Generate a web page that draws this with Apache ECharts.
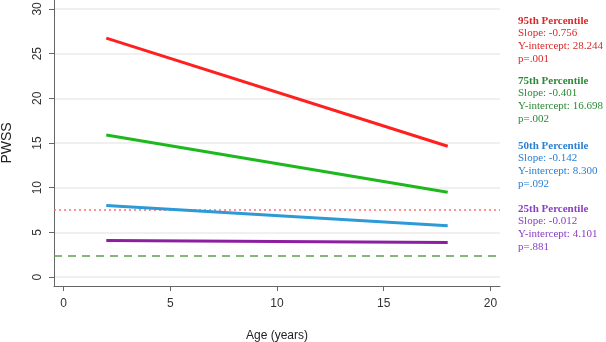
<!DOCTYPE html>
<html><head><meta charset="utf-8">
<script src="https://cdn.jsdelivr.net/npm/echarts@6/dist/echarts.min.js"></script>
<style>html,body{margin:0;padding:0;background:#fff}#c{width:606px;height:342px}</style>
</head><body><div id="c"></div>
<script>
// ---- data ----
const ages = [2, 18];
const p95 = [26.73, 14.64];
const p75 = [15.90, 9.48];
const p50 = [8.02, 5.74];
const p25 = [4.08, 3.88];
const refRed = 7.5;
const refGreen = 2.4;
const xTicks = [0, 5, 10, 15, 20];
const yTicks = [0, 5, 10, 15, 20, 25, 30];
const pctNames = ['95th Percentile', '75th Percentile', '50th Percentile', '25th Percentile'];
const slopes = ['-0.756', '-0.401', '-0.142', '-0.012'];
const intercepts = ['28.244', '16.698', '8.300', '4.101'];
const pvals = ['.001', '.002', '.092', '.881'];

// ---- styles ----
const lineColors = ['#ff1f1f', '#1db81d', '#2c9ad6', '#8c1fa0'];
const textColors = ['#d8282a', '#2a8a36', '#2a7fd2', '#8a40c4'];
const blockTop = [22, 82, 147, 210];
const lineGap = 12.6;

const chart = echarts.init(document.getElementById('c'), null, {renderer: 'canvas'});
const seriesData = [p95, p75, p50, p25];
const series = seriesData.map((vals, i) => ({
  type: 'line',
  data: ages.map((a, j) => [a, vals[j]]),
  symbol: 'none',
  lineStyle: {color: lineColors[i], width: 3},
  z: 5,
  silent: true
}));
series[0].markLine = {
  silent: true, symbol: 'none', label: {show: false},
  data: [
    {yAxis: refRed, lineStyle: {color: '#ff6d6d', type: [2, 3], width: 1.5}},
    {yAxis: refGreen, lineStyle: {color: '#5f9e52', type: [8, 6], width: 1.5}}
  ]
};

const graphics = [];
for (let i = 0; i < 4; i++) {
  const lines = [pctNames[i], 'Slope: ' + slopes[i], 'Y-intercept: ' + intercepts[i], 'p=' + pvals[i]];
  lines.forEach((t, k) => {
    graphics.push({
      type: 'text', left: 518, top: blockTop[i] + k * lineGap - 6.5,
      style: {
        text: t, fill: textColors[i],
        font: (k === 0 ? 'bold ' : '') + '11px "Liberation Serif", "DejaVu Serif", serif'
      }
    });
  });
}

chart.setOption({
  animation: false,
  backgroundColor: '#fff',
  grid: {left: 54, right: 106, top: 0, bottom: 56, containLabel: false, outerBoundsMode: 'none'},
  xAxis: {
    type: 'value', min: -0.45, max: 20.45,
    name: 'Age (years)', nameLocation: 'middle', nameGap: 44,
    nameTextStyle: {color: '#222', fontSize: 12, fontFamily: 'Liberation Sans, Arial, sans-serif'},
    axisLine: {show: true, onZero: false, lineStyle: {color: '#666', width: 1}},
    axisTick: {show: true, customValues: xTicks, length: 5, lineStyle: {color: '#666'}},
    axisLabel: {customValues: xTicks, color: '#333', fontSize: 12, margin: 12, fontFamily: 'Liberation Sans, Arial, sans-serif'},
    splitLine: {show: false}
  },
  yAxis: {
    type: 'value', min: -1, max: 31,
    name: 'PWSS', nameLocation: 'middle', nameGap: 40,
    nameTextStyle: {color: '#222', fontSize: 14, fontFamily: 'Liberation Sans, Arial, sans-serif'},
    axisLine: {show: true, onZero: false, lineStyle: {color: '#666', width: 1}},
    axisTick: {show: true, customValues: yTicks, length: 5, lineStyle: {color: '#666'}},
    axisLabel: {customValues: yTicks, rotate: 90, color: '#333', fontSize: 12, margin: 10, fontFamily: 'Liberation Sans, Arial, sans-serif'},
    splitLine: {show: true, lineStyle: {color: '#ebebeb', width: 1.5}}
  },
  graphic: graphics,
  series: series
});
</script>
</body></html>
